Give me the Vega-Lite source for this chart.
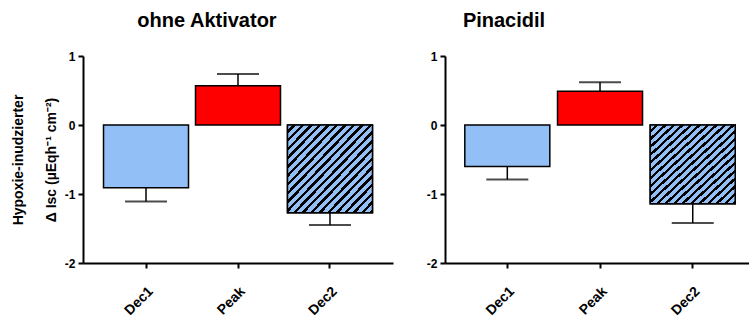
{
  "$schema": "https://vega.github.io/schema/vega-lite/v6.json",
  "padding": {"left": 11, "top": 10, "right": 0, "bottom": 0},
  "data": {"values": [
    {"panel": "ohne", "cat": "Dec1", "value": -0.91, "err": -1.11},
    {"panel": "ohne", "cat": "Peak", "value": 0.57, "err": 0.74},
    {"panel": "ohne", "cat": "Dec2", "value": -1.27, "err": -1.45},
    {"panel": "pina", "cat": "Dec1", "value": -0.60, "err": -0.79},
    {"panel": "pina", "cat": "Peak", "value": 0.49, "err": 0.62},
    {"panel": "pina", "cat": "Dec2", "value": -1.14, "err": -1.42}
  ]},
  "config": {
    "view": {"stroke": null},
    "font": "Liberation Sans",
    "axis": {"domainColor": "black", "domainWidth": 2, "tickColor": "black", "tickWidth": 2, "tickSize": 5, "labelColor": "black", "labelFontWeight": "bold", "labelFont": "Liberation Sans", "grid": false, "titleColor": "black", "titleFont": "Liberation Sans", "titleFontWeight": "bold"},
    "title": {"fontSize": 20, "fontWeight": "bold", "font": "Liberation Sans", "color": "black", "baseline": "alphabetic", "offset": 19.5}
  },
  "spacing": 33,
  "hconcat": [
    {
      "title": {"text": "ohne Aktivator", "dx": -31},
      "width": 310, "height": 207,
      "transform": [{"filter": "datum.panel === 'ohne'"}],
      "encoding": {
        "x": {"field": "cat", "type": "nominal", "sort": null,
          "scale": {"domain": ["Dec1", "Peak", "Dec2"], "paddingInner": 0.076, "paddingOuter": 0.223},
          "axis": {"title": null, "labelAngle": -45, "labelFontSize": 14, "labelPadding": 16}}
      },
      "layer": [
        {"mark": {"type": "bar", "stroke": "black", "strokeWidth": 1.5},
         "encoding": {
           "y": {"field": "value", "type": "quantitative", "scale": {"domain": [-2, 1], "nice": false},
             "axis": {"values": [-2, -1, 0, 1], "labelExpr": "datum.value < 0 ? '-' + abs(datum.value) : '' + datum.value", "labelFontSize": 12, "labelPadding": 3,
               "title": ["Hypoxie-inudzierter", "Δ Isc (µEqh⁻¹ cm⁻²)"], "titleFontSize": 14, "titleLineHeight": 33, "titlePadding": 6}},
           "fill": {"field": "cat", "type": "nominal", "scale": {"domain": ["Dec1", "Peak", "Dec2"], "range": ["#92BFF5", "#FF0000", "#92BFF5"]}, "legend": null}
         }},
        {"transform": [{"filter": "datum.cat === 'Dec2'"}],
         "mark": {"type": "bar", "stroke": "black", "strokeWidth": 1.5,
           "fill": {"gradient": "linear", "x1": 0, "y1": 0, "x2": 1, "y2": 1, "stops": [
             {"offset": 0, "color": "#92BFF5"}, {"offset": 0.03, "color": "#92BFF5"}, {"offset": 0.03, "color": "black"}, {"offset": 0.05, "color": "black"},
             {"offset": 0.05, "color": "#92BFF5"}, {"offset": 0.08, "color": "#92BFF5"}, {"offset": 0.08, "color": "black"}, {"offset": 0.1, "color": "black"},
             {"offset": 0.1, "color": "#92BFF5"}, {"offset": 0.13, "color": "#92BFF5"}, {"offset": 0.13, "color": "black"}, {"offset": 0.15, "color": "black"},
             {"offset": 0.15, "color": "#92BFF5"}, {"offset": 0.18, "color": "#92BFF5"}, {"offset": 0.18, "color": "black"}, {"offset": 0.2, "color": "black"},
             {"offset": 0.2, "color": "#92BFF5"}, {"offset": 0.23, "color": "#92BFF5"}, {"offset": 0.23, "color": "black"}, {"offset": 0.25, "color": "black"},
             {"offset": 0.25, "color": "#92BFF5"}, {"offset": 0.28, "color": "#92BFF5"}, {"offset": 0.28, "color": "black"}, {"offset": 0.3, "color": "black"},
             {"offset": 0.3, "color": "#92BFF5"}, {"offset": 0.33, "color": "#92BFF5"}, {"offset": 0.33, "color": "black"}, {"offset": 0.35, "color": "black"},
             {"offset": 0.35, "color": "#92BFF5"}, {"offset": 0.38, "color": "#92BFF5"}, {"offset": 0.38, "color": "black"}, {"offset": 0.4, "color": "black"},
             {"offset": 0.4, "color": "#92BFF5"}, {"offset": 0.43, "color": "#92BFF5"}, {"offset": 0.43, "color": "black"}, {"offset": 0.45, "color": "black"},
             {"offset": 0.45, "color": "#92BFF5"}, {"offset": 0.48, "color": "#92BFF5"}, {"offset": 0.48, "color": "black"}, {"offset": 0.5, "color": "black"},
             {"offset": 0.5, "color": "#92BFF5"}, {"offset": 0.53, "color": "#92BFF5"}, {"offset": 0.53, "color": "black"}, {"offset": 0.55, "color": "black"},
             {"offset": 0.55, "color": "#92BFF5"}, {"offset": 0.58, "color": "#92BFF5"}, {"offset": 0.58, "color": "black"}, {"offset": 0.6, "color": "black"},
             {"offset": 0.6, "color": "#92BFF5"}, {"offset": 0.63, "color": "#92BFF5"}, {"offset": 0.63, "color": "black"}, {"offset": 0.65, "color": "black"},
             {"offset": 0.65, "color": "#92BFF5"}, {"offset": 0.68, "color": "#92BFF5"}, {"offset": 0.68, "color": "black"}, {"offset": 0.7, "color": "black"},
             {"offset": 0.7, "color": "#92BFF5"}, {"offset": 0.73, "color": "#92BFF5"}, {"offset": 0.73, "color": "black"}, {"offset": 0.75, "color": "black"},
             {"offset": 0.75, "color": "#92BFF5"}, {"offset": 0.78, "color": "#92BFF5"}, {"offset": 0.78, "color": "black"}, {"offset": 0.8, "color": "black"},
             {"offset": 0.8, "color": "#92BFF5"}, {"offset": 0.83, "color": "#92BFF5"}, {"offset": 0.83, "color": "black"}, {"offset": 0.85, "color": "black"},
             {"offset": 0.85, "color": "#92BFF5"}, {"offset": 0.88, "color": "#92BFF5"}, {"offset": 0.88, "color": "black"}, {"offset": 0.9, "color": "black"},
             {"offset": 0.9, "color": "#92BFF5"}, {"offset": 0.93, "color": "#92BFF5"}, {"offset": 0.93, "color": "black"}, {"offset": 0.95, "color": "black"},
             {"offset": 0.95, "color": "#92BFF5"}, {"offset": 0.98, "color": "#92BFF5"}, {"offset": 0.98, "color": "black"}, {"offset": 1, "color": "black"}
           ]}},
         "encoding": {"y": {"field": "value", "type": "quantitative", "scale": {"domain": [-2, 1], "nice": false}}}},
        {"mark": {"type": "rule", "color": "black", "strokeWidth": 1.5},
         "encoding": {"y": {"field": "value", "type": "quantitative"}, "y2": {"field": "err"}}},
        {"mark": {"type": "tick", "color": "black", "thickness": 2, "size": 42},
         "encoding": {"y": {"field": "err", "type": "quantitative"}}},
        {"mark": {"type": "rule", "color": "black", "strokeWidth": 3},
         "encoding": {"y": {"datum": 0, "type": "quantitative"}}}
      ]
    },
    {
      "title": {"text": "Pinacidil", "dx": -93},
      "width": 304, "height": 207,
      "transform": [{"filter": "datum.panel === 'pina'"}],
      "encoding": {
        "x": {"field": "cat", "type": "nominal", "sort": null,
          "scale": {"domain": ["Dec1", "Peak", "Dec2"], "paddingInner": 0.083, "paddingOuter": 0.181, "align": 0.59},
          "axis": {"title": null, "labelAngle": -45, "labelFontSize": 14, "labelPadding": 16}}
      },
      "layer": [
        {"mark": {"type": "bar", "stroke": "black", "strokeWidth": 1.5},
         "encoding": {
           "y": {"field": "value", "type": "quantitative", "scale": {"domain": [-2, 1], "nice": false},
             "axis": {"values": [-2, -1, 0, 1], "labelExpr": "datum.value < 0 ? '-' + abs(datum.value) : '' + datum.value", "labelFontSize": 12, "labelPadding": 3, "title": null}},
           "fill": {"field": "cat", "type": "nominal", "scale": {"domain": ["Dec1", "Peak", "Dec2"], "range": ["#92BFF5", "#FF0000", "#92BFF5"]}, "legend": null}
         }},
        {"transform": [{"filter": "datum.cat === 'Dec2'"}],
         "mark": {"type": "bar", "stroke": "black", "strokeWidth": 1.5,
           "fill": {"gradient": "linear", "x1": 0, "y1": 0, "x2": 1, "y2": 1, "stops": [
             {"offset": 0, "color": "#92BFF5"}, {"offset": 0.03, "color": "#92BFF5"}, {"offset": 0.03, "color": "black"}, {"offset": 0.05, "color": "black"},
             {"offset": 0.05, "color": "#92BFF5"}, {"offset": 0.08, "color": "#92BFF5"}, {"offset": 0.08, "color": "black"}, {"offset": 0.1, "color": "black"},
             {"offset": 0.1, "color": "#92BFF5"}, {"offset": 0.13, "color": "#92BFF5"}, {"offset": 0.13, "color": "black"}, {"offset": 0.15, "color": "black"},
             {"offset": 0.15, "color": "#92BFF5"}, {"offset": 0.18, "color": "#92BFF5"}, {"offset": 0.18, "color": "black"}, {"offset": 0.2, "color": "black"},
             {"offset": 0.2, "color": "#92BFF5"}, {"offset": 0.23, "color": "#92BFF5"}, {"offset": 0.23, "color": "black"}, {"offset": 0.25, "color": "black"},
             {"offset": 0.25, "color": "#92BFF5"}, {"offset": 0.28, "color": "#92BFF5"}, {"offset": 0.28, "color": "black"}, {"offset": 0.3, "color": "black"},
             {"offset": 0.3, "color": "#92BFF5"}, {"offset": 0.33, "color": "#92BFF5"}, {"offset": 0.33, "color": "black"}, {"offset": 0.35, "color": "black"},
             {"offset": 0.35, "color": "#92BFF5"}, {"offset": 0.38, "color": "#92BFF5"}, {"offset": 0.38, "color": "black"}, {"offset": 0.4, "color": "black"},
             {"offset": 0.4, "color": "#92BFF5"}, {"offset": 0.43, "color": "#92BFF5"}, {"offset": 0.43, "color": "black"}, {"offset": 0.45, "color": "black"},
             {"offset": 0.45, "color": "#92BFF5"}, {"offset": 0.48, "color": "#92BFF5"}, {"offset": 0.48, "color": "black"}, {"offset": 0.5, "color": "black"},
             {"offset": 0.5, "color": "#92BFF5"}, {"offset": 0.53, "color": "#92BFF5"}, {"offset": 0.53, "color": "black"}, {"offset": 0.55, "color": "black"},
             {"offset": 0.55, "color": "#92BFF5"}, {"offset": 0.58, "color": "#92BFF5"}, {"offset": 0.58, "color": "black"}, {"offset": 0.6, "color": "black"},
             {"offset": 0.6, "color": "#92BFF5"}, {"offset": 0.63, "color": "#92BFF5"}, {"offset": 0.63, "color": "black"}, {"offset": 0.65, "color": "black"},
             {"offset": 0.65, "color": "#92BFF5"}, {"offset": 0.68, "color": "#92BFF5"}, {"offset": 0.68, "color": "black"}, {"offset": 0.7, "color": "black"},
             {"offset": 0.7, "color": "#92BFF5"}, {"offset": 0.73, "color": "#92BFF5"}, {"offset": 0.73, "color": "black"}, {"offset": 0.75, "color": "black"},
             {"offset": 0.75, "color": "#92BFF5"}, {"offset": 0.78, "color": "#92BFF5"}, {"offset": 0.78, "color": "black"}, {"offset": 0.8, "color": "black"},
             {"offset": 0.8, "color": "#92BFF5"}, {"offset": 0.83, "color": "#92BFF5"}, {"offset": 0.83, "color": "black"}, {"offset": 0.85, "color": "black"},
             {"offset": 0.85, "color": "#92BFF5"}, {"offset": 0.88, "color": "#92BFF5"}, {"offset": 0.88, "color": "black"}, {"offset": 0.9, "color": "black"},
             {"offset": 0.9, "color": "#92BFF5"}, {"offset": 0.93, "color": "#92BFF5"}, {"offset": 0.93, "color": "black"}, {"offset": 0.95, "color": "black"},
             {"offset": 0.95, "color": "#92BFF5"}, {"offset": 0.98, "color": "#92BFF5"}, {"offset": 0.98, "color": "black"}, {"offset": 1, "color": "black"}
           ]}},
         "encoding": {"y": {"field": "value", "type": "quantitative", "scale": {"domain": [-2, 1], "nice": false}}}},
        {"mark": {"type": "rule", "color": "black", "strokeWidth": 1.5},
         "encoding": {"y": {"field": "value", "type": "quantitative"}, "y2": {"field": "err"}}},
        {"mark": {"type": "tick", "color": "black", "thickness": 2, "size": 42},
         "encoding": {"y": {"field": "err", "type": "quantitative"}}},
        {"mark": {"type": "rule", "color": "black", "strokeWidth": 3},
         "encoding": {"y": {"datum": 0, "type": "quantitative"}}}
      ]
    }
  ]
}
